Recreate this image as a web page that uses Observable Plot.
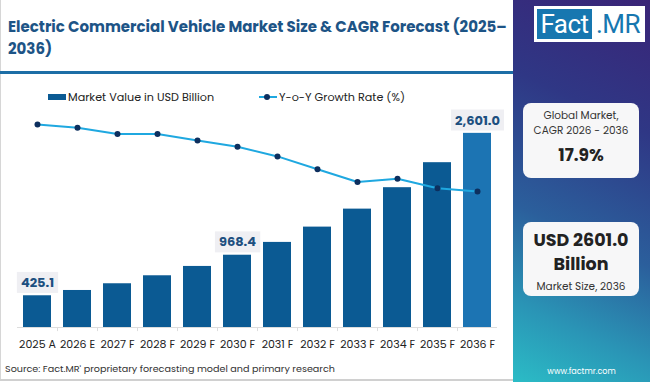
<!DOCTYPE html>
<html><head><meta charset="utf-8">
<script src="https://cdn.jsdelivr.net/npm/d3@7"></script>
<script src="https://cdn.jsdelivr.net/npm/@observablehq/plot@0.6"></script>
<style>
body{margin:0;background:#fff;}
#root{position:relative;width:650px;height:382px;overflow:hidden;background:#fff;font-family:Poppins,Inter,"Noto Sans",sans-serif;}
#leftborder{position:absolute;left:0;top:0;width:1px;height:381px;background:#d6d6d6;}
#bottomborder{position:absolute;left:0;top:379px;width:513px;height:2px;background:#d0d0d0;}
#title{position:absolute;left:8px;top:16px;font-weight:700;font-size:15px;line-height:22px;color:#1d5486;white-space:nowrap;}
#rule{position:absolute;left:0;top:71px;width:513px;height:3px;background:#1d6ea6;}
#legend{position:absolute;left:0;top:88px;height:18px;width:513px;font-size:11.2px;color:#222;}
.sw{position:absolute;top:6px;left:48px;width:18px;height:6px;background:#0b5a93;}
.lt{position:absolute;top:0;line-height:18px;white-space:nowrap;}
.ll{position:absolute;left:259px;top:8px;width:18px;height:2px;background:#1fa8e0;}
.ld{position:absolute;left:264px;top:6px;width:6px;height:6px;border-radius:50%;background:#0d2f5e;}
#chart{position:absolute;left:0;top:0;width:513px;height:382px;}
#chart svg{position:absolute;left:0;top:0;}
#source{position:absolute;left:5px;top:362px;font-size:9.6px;color:#333;white-space:nowrap;}
#side{position:absolute;left:513px;top:0;width:137px;height:382px;background:linear-gradient(205deg,#3a2477 0%,#2f3785 30%,#2b5f9c 60%,#2a95b6 82%,#2bbcc6 100%);}
#logo{position:absolute;left:21px;top:6px;width:111px;height:36px;background:#fff;}
#logo .f{position:absolute;left:3px;top:3px;width:55px;height:30px;background:#1777b0;color:#fff;font-family:Roboto,sans-serif;font-size:26px;letter-spacing:-0.5px;line-height:30px;text-align:center;}
#logo .m{position:absolute;left:58px;top:3px;width:52px;height:30px;color:#1777b0;font-family:Roboto,sans-serif;font-size:26px;letter-spacing:-0.5px;line-height:30px;text-align:center;}
.card{position:absolute;left:10px;width:116px;background:#f7f7f8;border-radius:8px;text-align:center;color:#222;}
#c1{top:103px;height:75px;}
#c2{top:222px;height:74px;}
.small{font-size:10.5px;line-height:15px;color:#333;}
.big1{font-size:17px;font-weight:700;line-height:22px;}
.big2{font-size:17.5px;font-weight:700;line-height:24px;}
#url{position:absolute;left:0;width:137px;top:366px;text-align:center;font-size:8px;color:#fff;}
</style></head><body>
<div id="root">
  <div id="leftborder"></div>
  <div id="title">Electric Commercial Vehicle Market Size &amp; CAGR Forecast (2025–<br>2036)</div>
  <div id="rule"></div>
  <div id="legend">
    <div class="sw"></div><div class="lt" id="lt1" style="left:68px"></div>
    <div class="ll"></div><div class="ld"></div><div class="lt" id="lt2" style="left:279px"></div>
  </div>
  <div id="chart"></div>
  <div id="source"></div>
  <div id="bottomborder"></div>
  <div id="side">
    <div id="logo"><div class="f">Fact</div><div class="m">.MR</div></div>
    <div class="card" id="c1">
      <div class="small" style="padding-top:5px">Global Market,<br>CAGR 2026 - 2036</div>
      <div class="big1" id="cagr" style="margin-top:6px"></div>
    </div>
    <div class="card" id="c2">
      <div class="big2" style="padding-top:6px" id="mkt"></div>
      <div class="small" style="margin-top:3px">Market Size, 2036</div>
    </div>
    <div id="url">www.factmr.com</div>
  </div>
</div>
<script>
const years = ["2025 A","2026 E","2027 F","2028 F","2029 F","2030 F","2031 F","2032 F","2033 F","2034 F","2035 F","2036 F"];
const marketValue = [425.1, 496, 586, 693, 818, 968.4, 1140, 1345, 1586, 1873, 2208, 2601.0];
const growthRate = [19.6, 19.5, 19.3, 19.3, 19.1, 18.9, 18.6, 18.2, 17.8, 17.9, 17.6, 17.5];
const labeledYears = ["2025 A","2030 F","2036 F"];
const barColors = ["#0b5a93","#0b5a93","#0b5a93","#0b5a93","#0b5a93","#0b5a93","#0b5a93","#0b5a93","#0b5a93","#0b5a93","#0b5a93","#1c74b3"];
const seriesNames = ["Market Value in USD Billion","Y-o-Y Growth Rate (%)"];
const cagrText = "17.9%";
const sourceText = "Source: Fact.MR' proprietary forecasting model and primary research";

document.getElementById("lt1").textContent = seriesNames[0];
document.getElementById("lt2").textContent = seriesNames[1];
document.getElementById("cagr").textContent = cagrText;
document.getElementById("mkt").innerHTML = "USD " + marketValue[marketValue.length-1].toFixed(1) + "<br>Billion";
document.getElementById("source").textContent = sourceText;

const FONT = 'Poppins, Inter, "Noto Sans", sans-serif';
const rows = years.map((y, i) => ({year: y, value: marketValue[i], growth: growthRate[i], color: barColors[i]}));
const fmt = d3.format(",.1f");
const W = 513, H = 382;
const xOpts = {domain: years, paddingInner: 0.3, paddingOuter: 0.15};

const bars = Plot.plot({
  width: W, height: H,
  marginLeft: 17, marginRight: 16, marginTop: 118, marginBottom: 55,
  style: {fontFamily: FONT, fontSize: "11px", color: "#222", background: "transparent", overflow: "visible"},
  x: {...xOpts, axis: null},
  y: {domain: [0, 2800], axis: null},
  marks: [
    Plot.barY(rows, {x: "year", y: "value", fill: "color"}),
    Plot.ruleY([0], {stroke: "#dddddd"}),
    Plot.ruleX(years.slice(0, -1), {x: d => d, dx: 20, y1: 0, y2: -55, stroke: "#dddddd"}),
    Plot.axisX({tickSize: 0, tickPadding: 13, fontSize: 11, fill: "#222", label: null}),
    Plot.text(rows.filter(d => labeledYears.includes(d.year)), {
      x: "year", y: "value", text: d => d.value >= 1000 ? fmt(d.value) : d.value.toFixed(1),
      dy: -13, fontWeight: 700, fontSize: 13, fill: "#1d4f80", className: "vlabel"
    })
  ]
});

const line = Plot.plot({
  width: W, height: H,
  marginLeft: 17, marginRight: 16, marginTop: 0, marginBottom: 0,
  style: {fontFamily: FONT, background: "transparent", overflow: "visible"},
  x: {...xOpts, axis: null},
  y: {domain: [17, 20], range: [207, 111.2], axis: null},
  marks: [
    Plot.line(rows, {x: "year", y: "growth", stroke: "#1fa8e0", strokeWidth: 2}),
    Plot.dot(rows, {x: "year", y: "growth", r: 3, fill: "#0d2f5e"})
  ]
});

const chart = document.getElementById("chart");
chart.appendChild(bars);
chart.appendChild(line);

// background boxes behind value labels
const ns = "http://www.w3.org/2000/svg";
bars.querySelectorAll(".vlabel text").forEach(t => {
  const b = t.getBBox();
  const r = document.createElementNS(ns, "rect");
  r.setAttribute("x", b.x - 4); r.setAttribute("y", b.y - 1);
  r.setAttribute("width", b.width + 8); r.setAttribute("height", b.height + 2);
  r.setAttribute("fill", "#efeff3");
  const tr = t.getAttribute("transform"); if (tr) r.setAttribute("transform", tr);
  t.parentNode.insertBefore(r, t);
});
</script>
</body></html>
